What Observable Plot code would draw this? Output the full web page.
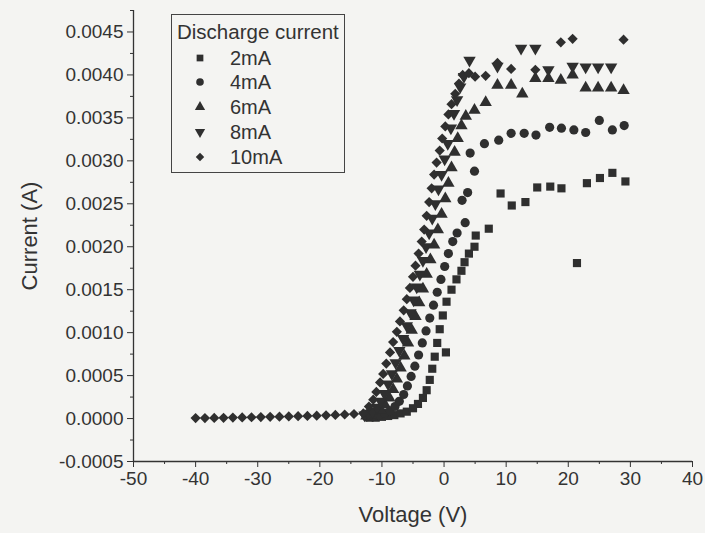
<!DOCTYPE html>
<html>
<head>
<meta charset="utf-8">
<script src="https://cdn.jsdelivr.net/npm/d3@7"></script>
<script src="https://cdn.jsdelivr.net/npm/@observablehq/plot@0.6"></script>
<style>
  html, body { margin: 0; padding: 0; background: #f4f4f2; }
  #wrap { position: relative; width: 705px; height: 533px; font-family: "Liberation Sans", Arial, sans-serif; color: #333; }
  #wrap svg { background: transparent; }
  g[aria-label="x-axis label"] text, g[aria-label="y-axis label"] text { font-size: 22px; }
  #legend { position: absolute; left: 171px; top: 14px; width: 174px; height: 159px; border: 1.5px solid #444; box-sizing: border-box; }
  #legend .title { position: absolute; left: 5px; top: 5px; font-size: 20.5px; white-space: nowrap; }
  #legend .row { position: absolute; left: 0; height: 20px; font-size: 20px; white-space: nowrap; }
  #legend .row svg { position: absolute; left: 20px; top: 2px; }
  #legend .row span { position: absolute; left: 58px; top: 0px; line-height: 20px; }
</style>
</head>
<body>
<div id="wrap"></div>
<script>
// ---- data ----
const seriesNames = ["2mA", "4mA", "6mA", "8mA", "10mA"];

const v2 = [-12.0,-11.0,-10.0,-9.0,-8.0,-7.0,-6.0,-5.0,-4.2,-3.4,-2.8,-2.3,-1.9,-1.5,0.3,-1.1,-0.7,-0.2,0.4,1.2,2.0,2.8,3.3,4.0,4.9,5.1,7.2,9.1,10.9,13.1,15.0,17.1,18.9,21.4,23.0,25.1,27.1,29.2];
const i2 = [0.00001,0.00001,0.00002,0.00003,0.00004,0.00006,0.00008,0.00012,0.00017,0.00024,0.00033,0.00045,0.00058,0.00072,0.00077,0.00088,0.00104,0.0012,0.00136,0.0015,0.00162,0.00172,0.00182,0.00192,0.002,0.00213,0.00221,0.00262,0.00248,0.00252,0.00269,0.0027,0.00268,0.00181,0.00274,0.0028,0.00286,0.00276];

const v4 = [-12.5,-11.5,-10.5,-9.6,-8.7,-7.9,-7.2,-6.5,-5.9,-5.3,-4.7,-4.1,-3.5,-2.9,-2.3,-1.7,-1.1,-0.5,0.1,0.7,1.4,2.1,3.4,2.9,3.8,4.9,4.2,6.5,8.8,10.8,12.9,14.8,17.0,18.9,20.9,22.8,25.0,27.1,29.0];
const i4 = [0.00002,0.00003,0.00004,0.00006,0.00009,0.00014,0.0002,0.00028,0.00038,0.00049,0.00061,0.00074,0.00088,0.00102,0.00117,0.00132,0.00147,0.00162,0.00177,0.00192,0.00206,0.00216,0.00228,0.00254,0.00263,0.00288,0.00309,0.0032,0.00324,0.00332,0.00332,0.0033,0.00339,0.00338,0.00336,0.00333,0.00347,0.00336,0.00341];

const v6 = [-12.5,-11.8,-11.0,-10.2,-9.5,-8.8,-8.2,-7.6,-7.0,-6.4,-5.8,-5.2,-4.6,-4.0,-3.4,-2.8,-2.2,-1.6,-1.0,-0.4,0.2,0.7,1.2,1.7,2.2,2.8,3.5,4.9,6.7,8.6,10.8,12.6,14.7,16.8,18.8,20.7,22.8,24.8,26.9,28.9];
const i6 = [0.00003,0.00004,0.00006,0.0001,0.00016,0.00024,0.00034,0.00046,0.00059,0.00073,0.00088,0.00103,0.00119,0.00135,0.00151,0.00168,0.00185,0.00202,0.0022,0.00238,0.00256,0.00274,0.00292,0.0031,0.00326,0.00341,0.00352,0.00359,0.00368,0.00388,0.00388,0.00378,0.00396,0.00396,0.00394,0.004,0.00385,0.00385,0.00385,0.00382];

const v8 = [-12.8,-12.1,-11.5,-10.8,-10.2,-9.6,-9.0,-8.4,-7.8,-7.2,-6.6,-6.0,-5.4,-4.9,-4.4,-3.9,-3.4,-2.9,-2.4,-1.9,-1.4,-0.9,-0.4,0.1,0.6,1.1,1.6,2.1,2.6,3.2,4.1,8.6,12.4,14.7,16.8,20.7,22.8,24.8,26.9];
const i8 = [0.00004,0.00006,0.00008,0.00013,0.0002,0.00029,0.0004,0.00052,0.00065,0.00079,0.00093,0.00108,0.00123,0.00138,0.00153,0.00168,0.00184,0.002,0.00216,0.00233,0.0025,0.00267,0.00284,0.00302,0.0032,0.00338,0.00355,0.00371,0.00386,0.00398,0.00417,0.0041,0.00431,0.00431,0.00406,0.0041,0.00409,0.00409,0.00409];

const v10 = [-40,-38.5,-37,-35.5,-34,-32.5,-31,-29.5,-28,-26.5,-25,-23.5,-22,-20.5,-19,-17.5,-16,-14.5,-13,-12.1,-11.4,-10.9,-10.3,-9.8,-9.3,-8.7,-8.2,-7.6,-7.1,-6.5,-6.0,-5.5,-5.0,-4.6,-4.1,-3.6,-3.2,-2.8,-2.4,-2.0,-1.6,-1.2,-0.7,-0.3,0.2,0.7,1.2,1.8,2.4,3.0,4.0,5.0,6.7,8.6,10.8,14.7,18.8,20.7,28.9];
const i10 = [0.000005,0.000006,0.000007,0.000009,0.000011,0.000013,0.000015,0.000017,0.00002,0.000022,0.000025,0.000028,0.000031,0.000034,0.000038,0.000042,0.000047,0.000053,0.00006,0.00014,0.00022,0.00031,0.00042,0.00052,0.00064,0.00077,0.00089,0.00101,0.00113,0.00126,0.00139,0.00152,0.00165,0.00178,0.00192,0.00206,0.0022,0.00236,0.00252,0.00268,0.00284,0.00298,0.00312,0.00326,0.0034,0.00354,0.00366,0.00378,0.0039,0.004,0.00402,0.00398,0.00399,0.00414,0.00407,0.00406,0.00438,0.00442,0.00441];

const xTicks = [-50,-40,-30,-20,-10,0,10,20,30,40];
const xMinor = [-45,-35,-25,-15,-5,5,15,25,35];
const yTicks = [-0.0005,0,0.0005,0.001,0.0015,0.002,0.0025,0.003,0.0035,0.004,0.0045];
const yMinor = [-0.00025,0.00025,0.00075,0.00125,0.00175,0.00225,0.00275,0.00325,0.00375,0.00425,0.00475];

// ---- build table ----
const volts = [v2, v4, v6, v8, v10];
const amps = [i2, i4, i6, i8, i10];
const rows = [];
seriesNames.forEach((s, k) => volts[k].forEach((v, j) => rows.push({series: s, V: v, I: amps[k][j]})));

const triangleDown = {
  draw(context, size) {
    const y = -Math.sqrt(size / (Math.sqrt(3) * 3));
    context.moveTo(0, -y * 2);
    context.lineTo(-Math.sqrt(3) * y, y);
    context.lineTo(Math.sqrt(3) * y, y);
    context.closePath();
  }
};
const symbols = [d3.symbolSquare, d3.symbolCircle, d3.symbolTriangle, triangleDown, d3.symbolDiamond2];
const ink = "#333";
const yFmt = d => d3.format(".4f")(d).replace("\u2212", "-");

const chart = Plot.plot({
  width: 705,
  height: 533,
  marginLeft: 133,
  marginRight: 13,
  marginTop: 10,
  marginBottom: 72,
  style: {background: "transparent", color: ink, fontFamily: "'Liberation Sans', Arial, sans-serif", fontSize: "19px"},
  x: {domain: [-50, 40]},
  y: {domain: [-0.0005, 0.00475]},
  symbol: {domain: seriesNames, range: symbols},
  marks: [
    Plot.axisX(xTicks, {tickSize: 6, tickPadding: 4, tickFormat: d => String(d), label: "Voltage (V)", labelAnchor: "center", labelArrow: "none", labelOffset: 60, fontSize: 19}),
    Plot.axisX(xMinor, {tickSize: 3, text: null, label: null}),
    Plot.axisY(yTicks, {tickSize: 6, tickPadding: 4, tickFormat: yFmt, label: "Current (A)", labelAnchor: "center", labelArrow: "none", labelOffset: 112, fontSize: 19}),
    Plot.axisY(yMinor, {tickSize: 3, text: null, label: null}),
    Plot.ruleX([-50], {stroke: ink, strokeWidth: 1.3}),
    Plot.ruleY([-0.0005], {stroke: ink, strokeWidth: 1.3}),
    Plot.dot(rows, {x: "V", y: "I", symbol: "series", fill: "#2f2f2f", stroke: "none", r: 4.6})
  ]
});
const wrap = document.getElementById("wrap");
wrap.appendChild(chart);

// ---- legend ----
const legend = document.createElement("div");
legend.id = "legend";
legend.innerHTML = '<div class="title">Discharge current</div>';
const rowTops = [33, 57, 82, 107, 132];
seriesNames.forEach((s, k) => {
  const row = document.createElement("div");
  row.className = "row";
  row.style.top = rowTops[k] + "px";
  const path = d3.symbol().type(symbols[k]).size(Math.PI * 3.8 * 3.8)();
  row.innerHTML = `<svg width="16" height="16" viewBox="-8 -8 16 16"><path d="${path}" fill="#2f2f2f"/></svg><span>${s}</span>`;
  legend.appendChild(row);
});
wrap.appendChild(legend);
</script>
</body>
</html>
